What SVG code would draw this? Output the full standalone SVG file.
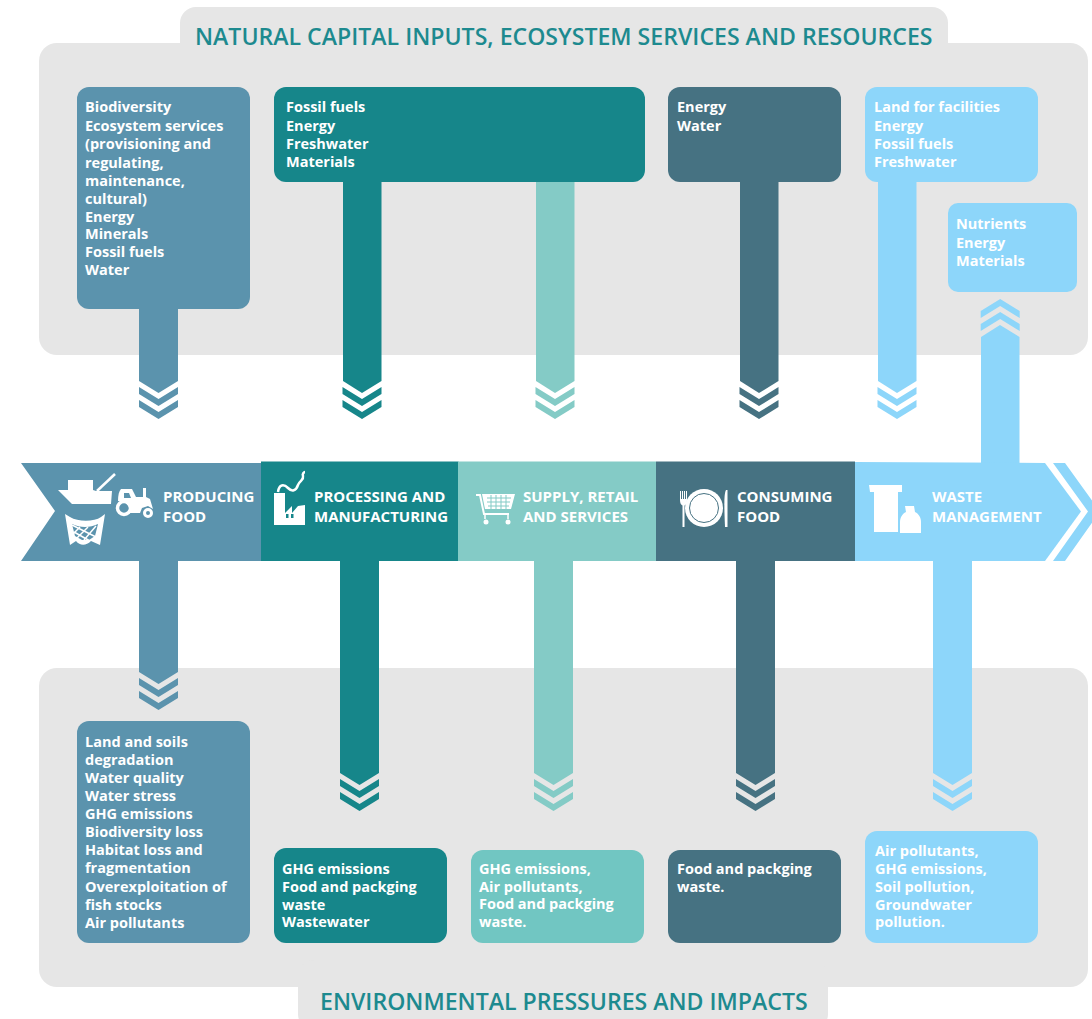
<svg xmlns="http://www.w3.org/2000/svg" width="1092" height="1019" viewBox="0 0 1092 1019">
<style>
.panel{fill:#e6e6e6}
.blue{fill:#5b93ad}.teal{fill:#16868a}.light{fill:#84cbc6}.slate{fill:#467282}.sky{fill:#8dd6fa}.lightbox{fill:#71c6c2}
text{font-family:"Open Sans","Liberation Sans",sans-serif;font-weight:700;fill:#fff}
.t{font-size:14.5px}
.b{font-size:15px}
.title{font-size:23.1px;fill:#1d8a8f;font-weight:600}
.ic{fill:#fff}
.icl{fill:none;stroke:#fff}
</style>
<defs>
<g id="chev"><polygon points="-19.5,-32 0,-20 19.5,-32 19.5,-25 0,-13 -19.5,-25"/><polygon points="-19.5,-19 0,-7 19.5,-19 19.5,-12 0,0 -19.5,-12"/></g>
</defs>
<g id="panels">
<rect class="panel" x="180" y="7" width="768" height="60" rx="16"/>
<rect class="panel" x="39" y="43" width="1049" height="312" rx="18"/>
<rect class="panel" x="39" y="668" width="1049" height="319" rx="18"/>
<rect class="panel" x="298" y="960" width="530" height="70" rx="16"/>
</g>
<text id="title-top" class="title" x="195" y="45">NATURAL CAPITAL INPUTS, ECOSYSTEM SERVICES AND RESOURCES</text>
<text id="title-bottom" class="title" x="320" y="1010">ENVIRONMENTAL PRESSURES AND IMPACTS</text>
<g id="connectors">
<g class="blue"><polygon points="139,300 178,300 178,381 158.500,393 139,381"/><use href="#chev" x="158.500" y="419"/></g>
<g class="teal"><polygon points="343,170 381.500,170 381.500,381 362,393 343,381"/><use href="#chev" x="362" y="419"/></g>
<g class="light"><polygon points="536,170 574.500,170 574.500,381 555,393 536,381"/><use href="#chev" x="555" y="419"/></g>
<g class="slate"><polygon points="740,170 778.500,170 778.500,381 759,393 740,381"/><use href="#chev" x="759" y="419"/></g>
<g class="sky"><polygon points="878,170 916.500,170 916.500,381 897,393 878,381"/><use href="#chev" x="897" y="419"/></g>
<g class="sky"><polygon points="981,470 1019.500,470 1019.500,337 1000,325 981,337"/><use href="#chev" transform="translate(1000.200 299) scale(1 -1)"/></g>
<g class="blue"><polygon points="139,555 178,555 178,672 158.500,684 139,672"/><use href="#chev" x="158.500" y="710"/></g>
<g class="teal"><polygon points="340,555 379,555 379,773 359.500,785 340,773"/><use href="#chev" x="359.500" y="811"/></g>
<g class="light"><polygon points="534,555 573,555 573,773 553.500,785 534,773"/><use href="#chev" x="553.500" y="811"/></g>
<g class="slate"><polygon points="736,555 775,555 775,773 755.500,785 736,773"/><use href="#chev" x="755.500" y="811"/></g>
<g class="sky"><polygon points="933,555 972,555 972,773 952.500,785 933,773"/><use href="#chev" x="952.500" y="811"/></g>
</g>
<g id="stage-producing">
<polygon class="blue" points="21,463 261,463 261,561 21,561 55,511"/>
<path class="ic" d="M58 490L68 490V480H93V490L96 491H112L111 504H72Z"/>
<path class="icl" stroke-width="2.500" d="M97 491L115 474"/>
<path class="ic" fill-rule="evenodd" d="M121 489H132L136 497H143V488H146V497L150 499 153 509 148 506 142 508 140 513H130C130 505 125 501 118 501 118 495 119 491 121 489ZM124 493V498H131L129 493Z"/>
<circle class="icl" cx="124" cy="508" r="6.500" stroke-width="3.500"/>
<circle class="icl" cx="148" cy="513" r="3.500" stroke-width="3"/>
<path class="ic" fill-rule="evenodd" d="M65 514L70 517C78 522 94 522 101 517L105 514 100 545 91 541C86 546 80 546 76 541L70 545ZM72 524L75 536 82 540H89L95 536 98 524C90 528 80 528 72 524Z"/>
<path class="icl" stroke-width="1.500" d="M72 525L96 537M80 527L72 535M88 527L76 539M96 526L84 540M74 532L90 541"/>
<text class="b" x="163" y="501.500">PRODUCING</text><text class="b" x="163" y="521.500">FOOD</text>
</g>
<g id="stage-processing">
<rect class="teal" x="261" y="461.500" width="197.500" height="99.500"/>
<path class="ic" d="M274 493H285V513L292 506V513L298 506 305 505V525H274Z"/>
<rect class="teal" x="286" y="514" width="2.500" height="4"/><rect class="teal" x="291" y="514" width="2.500" height="4"/>
<path class="icl" stroke-width="2.500" d="M278 492C279 484 284 484 288 488 292 492 296 491 298 485 300 480 304 480 303 476 302 474 304 472 305 472"/>
<text class="b" x="314" y="501.500">PROCESSING AND</text><text class="b" x="314" y="521.500">MANUFACTURING</text>
</g>
<g id="stage-supply">
<rect class="light" x="458" y="461.500" width="198" height="99.500"/>
<path class="icl" stroke-width="2" d="M476 495H480L484 514H509"/>
<path class="ic" d="M482 494H515L511 509H485Z"/>
<path class="icl" style="stroke:#84cbc6" stroke-width="1" d="M487 498H511M487 502H510M488 506H509M491 495V509M496 495V509M501 495V509M506 495V509"/>
<path class="icl" stroke-width="1.500" d="M485 514V519M508 514V519"/>
<circle class="ic" cx="486" cy="522" r="2.500"/><circle class="ic" cx="508" cy="522" r="2.500"/>
<text class="b" x="523" y="501.500">SUPPLY, RETAIL</text><text class="b" x="523" y="521.500">AND SERVICES</text>
</g>
<g id="stage-consuming">
<rect class="slate" x="656" y="461.500" width="199" height="99.500"/>
<circle class="ic" cx="704" cy="508" r="19"/>
<circle class="icl" style="stroke:#467282" cx="704" cy="508" r="14.500" stroke-width="1"/>
<path class="ic" d="M680 491V500C680 503 681 505 682.500 505.500V527H684.500V505.500C686 505 687 503 687 500V491H686V499H685V491H684V499H683V491H682V499H681V491Z"/>
<path class="ic" d="M726 490C724 494 724 503 725 527H727.500V490Z"/>
<text class="b" x="737" y="501.500">CONSUMING</text><text class="b" x="737" y="521.500">FOOD</text>
</g>
<g id="stage-waste">
<polygon class="sky" points="855,462 1045,463 1081,511.500 1045,561 855,561"/>
<polygon class="sky" points="1053,463 1065,463 1100,511.500 1065,561 1053,561 1088,511.500"/>
<path class="ic" d="M869 485H902V492H898V532H874V492H870Z"/>
<path class="ic" d="M905 506H914L915 512C919 514 921 518 921 522V533H900V522C900 518 902 514 906 512Z"/>
<text class="b" x="932" y="501.500">WASTE</text><text class="b" x="932" y="521.500">MANAGEMENT</text>
</g>
<g id="input-producing">
<rect class="blue" x="77" y="87" width="173" height="222" rx="12"/>
<text class="t" x="85" y="112">Biodiversity</text><text class="t" x="85" y="131">Ecosystem services</text><text class="t" x="85" y="149">(provisioning and</text><text class="t" x="85" y="168">regulating,</text><text class="t" x="85" y="186">maintenance,</text><text class="t" x="85" y="204">cultural)</text><text class="t" x="85" y="222">Energy</text><text class="t" x="85" y="239">Minerals</text><text class="t" x="85" y="257">Fossil fuels</text><text class="t" x="85" y="275">Water</text>
</g>
<g id="input-processing">
<rect class="teal" x="274" y="87" width="371" height="95" rx="12"/>
<text class="t" x="286" y="112">Fossil fuels</text><text class="t" x="286" y="131">Energy</text><text class="t" x="286" y="149">Freshwater</text><text class="t" x="286" y="167">Materials</text>
</g>
<g id="input-consuming">
<rect class="slate" x="668" y="87" width="173" height="95" rx="12"/>
<text class="t" x="677" y="112">Energy</text><text class="t" x="677" y="131">Water</text>
</g>
<g id="input-waste">
<rect class="sky" x="865" y="87" width="173" height="95" rx="12"/>
<text class="t" x="874" y="112">Land for facilities</text><text class="t" x="874" y="131">Energy</text><text class="t" x="874" y="149">Fossil fuels</text><text class="t" x="874" y="167">Freshwater</text>
</g>
<g id="input-recovery">
<rect class="sky" x="948" y="203" width="129" height="89" rx="10"/>
<text class="t" x="956" y="229">Nutrients</text><text class="t" x="956" y="248">Energy</text><text class="t" x="956" y="266">Materials</text>
</g>
<g id="impact-producing">
<rect class="blue" x="77" y="721" width="173" height="222" rx="12"/>
<text class="t" x="85" y="747">Land and soils</text><text class="t" x="85" y="765">degradation</text><text class="t" x="85" y="783">Water quality</text><text class="t" x="85" y="801">Water stress</text><text class="t" x="85" y="819">GHG emissions</text><text class="t" x="85" y="837">Biodiversity loss</text><text class="t" x="85" y="855">Habitat loss and</text><text class="t" x="85" y="873">fragmentation</text><text class="t" x="85" y="892">Overexploitation of</text><text class="t" x="85" y="910">fish stocks</text><text class="t" x="85" y="928">Air pollutants</text>
</g>
<g id="impact-processing">
<rect class="teal" x="274" y="848" width="173" height="95" rx="12"/>
<text class="t" x="282" y="874">GHG emissions</text><text class="t" x="282" y="892">Food and packging</text><text class="t" x="282" y="910">waste</text><text class="t" x="282" y="927">Wastewater</text>
</g>
<g id="impact-supply">
<rect class="lightbox" x="471" y="850" width="173" height="93" rx="12"/>
<text class="t" x="479" y="874">GHG emissions,</text><text class="t" x="479" y="892">Air pollutants,</text><text class="t" x="479" y="909">Food and packging</text><text class="t" x="479" y="927">waste.</text>
</g>
<g id="impact-consuming">
<rect class="slate" x="668" y="850" width="173" height="93" rx="12"/>
<text class="t" x="677" y="874">Food and packging</text><text class="t" x="677" y="892">waste.</text>
</g>
<g id="impact-waste">
<rect class="sky" x="865" y="831" width="173" height="112" rx="12"/>
<text class="t" x="875" y="856">Air pollutants,</text><text class="t" x="875" y="874">GHG emissions,</text><text class="t" x="875" y="892">Soil pollution,</text><text class="t" x="875" y="910">Groundwater</text><text class="t" x="875" y="927">pollution.</text>
</g>
</svg>
